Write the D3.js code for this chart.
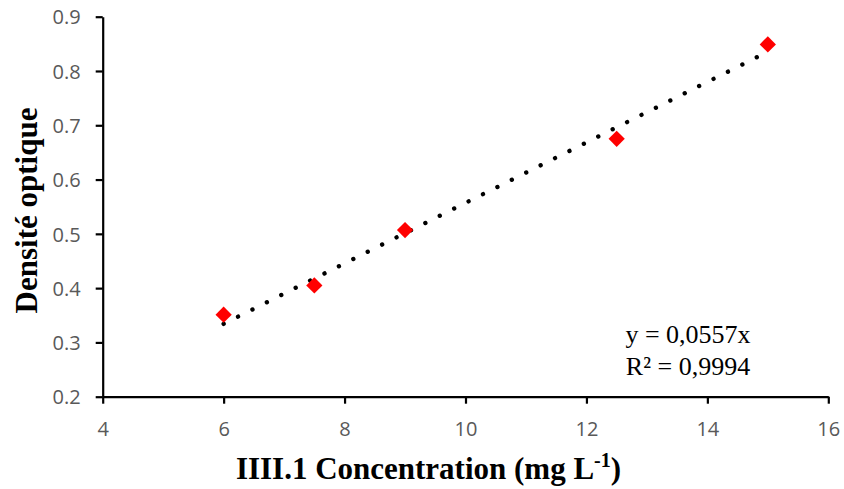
<!DOCTYPE html>
<html>
<head>
<meta charset="utf-8">
<script src="https://cdn.jsdelivr.net/npm/d3@7"></script>
<style>
  html, body { margin: 0; padding: 0; background: #fff; }
  svg { display: block; }
</style>
</head>
<body>
<svg id="chart" width="844" height="489"></svg>
<script>
// Calibration points: concentration (mg/L) vs optical density
const concentrations = [6, 7.5, 9, 12.5, 15];
const densities = [0.351, 0.405, 0.507, 0.675, 0.849];

// Linear fit through the origin
const slope = 0.0557;
const rSquared = "0,9994";
const fitRange = [6, 15];

// Axis ticks
const xTicks = [4, 6, 8, 10, 12, 14, 16];
const yTicks = [0.2, 0.3, 0.4, 0.5, 0.6, 0.7, 0.8, 0.9];

const xTitle = "IIII.1 Concentration (mg L";
const yTitle = "Densité optique";

const svg = d3.select("#chart");

const x = d3.scaleLinear().domain([4, 16]).range([102.7, 828.3]);
const y = d3.scaleLinear().domain([0.2, 0.9]).range([396.7, 16.7]);

const tickFont = "'Open Sans', 'Liberation Sans', sans-serif";
const tickColor = "#595959";

// X axis
const gx = svg.append("g")
  .attr("transform", `translate(0,${y(0.2)})`)
  .call(d3.axisBottom(x).tickValues(xTicks).tickFormat(d3.format("d")).tickSize(7).tickSizeOuter(0));

// Y axis
const gy = svg.append("g")
  .attr("transform", `translate(${x(4)},0)`)
  .call(d3.axisLeft(y).tickValues(yTicks).tickFormat(d3.format(".1f")).tickSize(7).tickSizeOuter(0));

[gx, gy].forEach(g => {
  g.select(".domain").attr("stroke", "#000").attr("stroke-width", 2.2);
  g.selectAll(".tick line").attr("stroke", "#000").attr("stroke-width", 2.2);
  g.selectAll(".tick text")
    .attr("fill", tickColor)
    .style("font-family", tickFont)
    .style("font-size", "20px");
});

gx.selectAll(".tick text").attr("y", 39.5).attr("dy", "0");
gy.selectAll(".tick text").attr("x", -22).attr("dy", "0.36em");

// Dotted trend line
const line = d3.line().x(d => x(d)).y(d => y(slope * d));
svg.append("path")
  .datum(fitRange)
  .attr("d", line)
  .attr("fill", "none")
  .attr("stroke", "#000")
  .attr("stroke-width", 4.4)
  .attr("stroke-linecap", "round")
  .attr("stroke-dasharray", "0.01 16.1");

// Red diamond markers
const diamond = d3.symbol().type(d3.symbolSquare).size(132);
svg.append("g")
  .selectAll("path")
  .data(concentrations.map((c, i) => ({ c, d: densities[i] })))
  .join("path")
  .attr("d", diamond)
  .attr("transform", p => `translate(${x(p.c)},${y(p.d)}) rotate(45)`)
  .attr("fill", "#ff0000");

// Fit equation
const eq = svg.append("text")
  .attr("text-anchor", "middle")
  .style("font-family", "'Liberation Serif', 'Times New Roman', serif")
  .style("font-size", "26px")
  .attr("fill", "#000");
eq.append("tspan").attr("x", 688).attr("y", 343).text(`y = ${String(slope).replace(".", ",")}x`);
eq.append("tspan").attr("x", 688).attr("y", 375).text(`R² = ${rSquared}`);

// Axis titles
const xt = svg.append("text")
  .attr("x", 428.5)
  .attr("y", 479)
  .attr("text-anchor", "middle")
  .style("font-family", "'Liberation Serif', 'Times New Roman', serif")
  .style("font-size", "31px")
  .style("font-weight", "bold")
  .attr("fill", "#000");
xt.append("tspan").text(xTitle);
xt.append("tspan").attr("baseline-shift", "12px").style("font-size", "20px").text("-1");
xt.append("tspan").text(")");

svg.append("text")
  .attr("transform", "translate(37,210.5) rotate(-90)")
  .attr("text-anchor", "middle")
  .style("font-family", "'Liberation Serif', 'Times New Roman', serif")
  .style("font-size", "31px")
  .style("font-weight", "bold")
  .attr("fill", "#000")
  .text(yTitle);
</script>
</body>
</html>
